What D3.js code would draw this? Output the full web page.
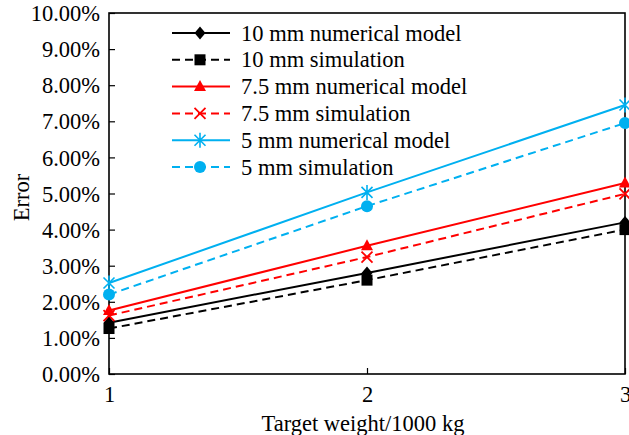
<!DOCTYPE html>
<html>
<head>
<meta charset="utf-8">
<script src="https://cdn.jsdelivr.net/npm/d3@7"></script>
<style>
  body { margin: 0; background: #fff; }
</style>
</head>
<body>
<div id="chart"></div>
<script>
// Target weight (x1000 kg)
const weights = [1, 2, 3];
const yTicks = [0, 1, 2, 3, 4, 5, 6, 7, 8, 9, 10];

// Error values (%)
const num10 = [1.42, 2.80, 4.20];
const sim10 = [1.26, 2.60, 4.00];
const num75 = [1.76, 3.55, 5.29];
const sim75 = [1.62, 3.24, 4.99];
const num5 = [2.52, 5.03, 7.45];
const sim5 = [2.20, 4.65, 6.95];

const seriesLabels = [
    "10 mm numerical model", "10 mm simulation",
    "7.5 mm numerical model", "7.5 mm simulation",
    "5 mm numerical model", "5 mm simulation"
];

const series = [
    { label: seriesLabels[0], values: num10, color: "#000000", dashed: false, marker: "diamond" },
    { label: seriesLabels[1], values: sim10, color: "#000000", dashed: true, marker: "square" },
    { label: seriesLabels[2], values: num75, color: "#ff0000", dashed: false, marker: "triangle" },
    { label: seriesLabels[3], values: sim75, color: "#ff0000", dashed: true, marker: "cross" },
    { label: seriesLabels[4], values: num5, color: "#00b0f0", dashed: false, marker: "asterisk" },
    { label: seriesLabels[5], values: sim5, color: "#00b0f0", dashed: true, marker: "circle" }
];

const FONT = "'Liberation Serif', 'Times New Roman', Times, 'DejaVu Serif', serif";
const FS = "22.5px";

const W = 629, H = 435;
const margin = { top: 13, right: 4, bottom: 61, left: 109 };
const width = W - margin.left - margin.right;
const height = H - margin.top - margin.bottom;

const svg = d3.select("#chart").append("svg")
    .attr("width", W)
    .attr("height", H)
    .attr("font-family", FONT);

const g = svg.append("g")
    .attr("transform", `translate(${margin.left},${margin.top})`);

const x = d3.scaleLinear().domain([1, 3]).range([0, width]);
const y = d3.scaleLinear().domain([0, 10]).range([height, 0]);

// Axes with inward ticks
const yAxis = g.append("g")
    .call(d3.axisLeft(y).tickValues(yTicks).tickSize(-6).tickPadding(9)
        .tickFormat(d => d3.format(".2f")(d) + "%"));
yAxis.attr("font-family", FONT);
yAxis.select(".domain").remove();
yAxis.selectAll("line").attr("stroke", "#000").attr("stroke-width", 1.2);
yAxis.selectAll("text")
    .style("font-family", FONT)
    .style("font-size", FS)
    .attr("fill", "#000")
    .attr("dy", "0.34em");

const xAxis = g.append("g")
    .attr("transform", `translate(0,${height})`)
    .call(d3.axisBottom(x).tickValues(weights).tickSize(-6).tickPadding(12)
        .tickFormat(d3.format("d")));
xAxis.attr("font-family", FONT);
xAxis.select(".domain").remove();
xAxis.selectAll("line").attr("stroke", "#000").attr("stroke-width", 1.2);
xAxis.selectAll("text")
    .style("font-family", FONT)
    .style("font-size", FS)
    .attr("fill", "#000");

// Frame
g.append("rect")
    .attr("width", width)
    .attr("height", height)
    .attr("fill", "none")
    .attr("stroke", "#000")
    .attr("stroke-width", 1.6);

// Axis labels
g.append("text")
    .attr("x", width / 2 - 4)
    .attr("y", height + 57)
    .attr("text-anchor", "middle")
    .style("font-family", FONT)
    .style("font-size", FS)
    .text("Target weight/1000 kg");

g.append("text")
    .attr("transform", "rotate(-90)")
    .attr("x", -height / 2 - 4)
    .attr("y", -margin.left + 29)
    .attr("text-anchor", "middle")
    .style("font-family", FONT)
    .style("font-size", FS)
    .text("Error");

// Marker drawing
function drawMarker(sel, type, color) {
    if (type === "diamond") {
        sel.append("path").attr("d", "M0,-6.5L5.5,0L0,6.5L-5.5,0Z").attr("fill", color);
    } else if (type === "square") {
        sel.append("rect").attr("x", -5.5).attr("y", -5.5).attr("width", 11).attr("height", 11).attr("fill", color);
    } else if (type === "triangle") {
        sel.append("path").attr("d", "M0,-6.5L6,4.5L-6,4.5Z").attr("fill", color);
    } else if (type === "cross") {
        sel.append("path").attr("d", "M-5.5,-5.5L5.5,5.5M5.5,-5.5L-5.5,5.5")
            .attr("stroke", color).attr("stroke-width", 1.8).attr("fill", "none");
    } else if (type === "asterisk") {
        sel.append("path").attr("d", "M-5.5,-5.5L5.5,5.5M5.5,-5.5L-5.5,5.5M0,-7.5L0,7.5")
            .attr("stroke", color).attr("stroke-width", 1.6).attr("fill", "none");
    } else if (type === "circle") {
        sel.append("circle").attr("r", 6).attr("fill", color);
    }
}

const line = d3.line()
    .x((d, i) => x(weights[i]))
    .y(d => y(d));

series.forEach(s => {
    g.append("path")
        .datum(s.values)
        .attr("fill", "none")
        .attr("stroke", s.color)
        .attr("stroke-width", 2)
        .attr("stroke-dasharray", s.dashed ? "8,5" : null)
        .attr("d", line);

    s.values.forEach((v, i) => {
        const m = g.append("g")
            .attr("transform", `translate(${x(weights[i])},${y(v)})`);
        drawMarker(m, s.marker, s.color);
    });
});

// Legend
const legend = svg.append("g")
    .attr("transform", "translate(172, 33)");

series.forEach((s, i) => {
    const row = legend.append("g")
        .attr("transform", `translate(0, ${i * 26.8})`);
    row.append("line")
        .attr("x1", 0)
        .attr("x2", 58)
        .attr("stroke", s.color)
        .attr("stroke-width", 2)
        .attr("stroke-dasharray", s.dashed ? "8,5" : null);
    const m = row.append("g").attr("transform", "translate(28,0)");
    drawMarker(m, s.marker, s.color);
    row.append("text")
        .attr("x", 69)
        .attr("y", 7.5)
        .style("font-family", FONT)
        .style("font-size", FS)
        .text(s.label);
});
</script>
</body>
</html>
